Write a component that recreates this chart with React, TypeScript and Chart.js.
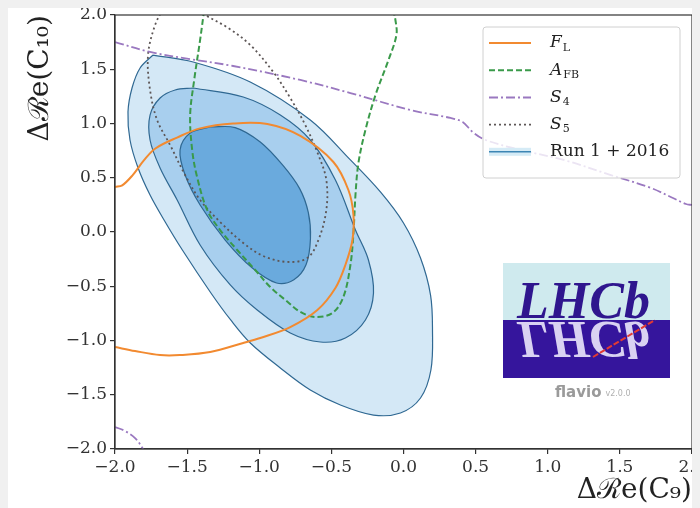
import React, { useEffect, useRef } from 'react';
import { Chart, registerables } from 'chart.js';

Chart.register(...registerables);

// ---------- tick values ----------
const xTickValues = [-2, -1.5, -1, -0.5, 0, 0.5, 1, 1.5, 2];
const yTickValues = [-2, -1.5, -1, -0.5, 0, 0.5, 1, 1.5, 2];

// ---------- constraint curves (ΔRe C9, ΔRe C10) ----------
const FL: [number, number][] = [
  [-2, 0.415], [-1.95, 0.43], [-1.88, 0.52], [-1.8, 0.66], [-1.72, 0.77],
  [-1.57, 0.87], [-1.41, 0.955], [-1.181, 1.0], [-0.944, 0.995], [-0.715, 0.885],
  [-0.486, 0.645], [-0.382, 0.387], [-0.347, 0.157], [-0.354, -0.074], [-0.403, -0.304],
  [-0.472, -0.516], [-0.597, -0.719], [-0.785, -0.876], [-0.993, -0.977], [-1.111, -1.023],
  [-1.34, -1.106], [-1.549, -1.134], [-1.6875, -1.134], [-1.861, -1.097], [-2, -1.06],
];

const AFB: [number, number][] = [
  [-1.382, 2.046], [-1.41, 1.77], [-1.451, 1.401], [-1.479, 1.078], [-1.465, 0.756],
  [-1.431, 0.507], [-1.361, 0.203], [-1.271, 0.018], [-1.153, -0.166], [-1.028, -0.35],
  [-0.924, -0.507], [-0.819, -0.627], [-0.715, -0.737], [-0.611, -0.783], [-0.493, -0.747],
  [-0.417, -0.599], [-0.368, -0.304], [-0.347, -0.009], [-0.333, 0.341], [-0.3125, 0.636],
  [-0.264, 0.94], [-0.194, 1.263], [-0.104, 1.585], [-0.049, 1.816], [-0.056, 1.954],
  [-0.076, 2.065],
];

const S4_main: [number, number][] = [
  [-2, 1.751], [-1.757, 1.659], [-1.479, 1.594], [-1.181, 1.53], [-0.715, 1.401],
  [-0.368, 1.281], [0.049, 1.124], [0.326, 1.051], [0.41, 1.014], [0.479, 0.922],
  [0.569, 0.848], [0.8125, 0.756], [1.111, 0.664], [1.4375, 0.525], [1.715, 0.406],
  [1.868, 0.313], [1.958, 0.258], [2.0, 0.249],
];

const S4_corner: [number, number][] = [
  [-2, -1.797], [-1.931, -1.834], [-1.861, -1.899], [-1.806, -2.0], [-1.792, -2.055],
];

const S5: [number, number][] = [
  [-1.653, 2.092], [-1.722, 1.908], [-1.771, 1.631], [-1.757, 1.309], [-1.708, 1.032],
  [-1.618, 0.802], [-1.514, 0.525], [-1.41, 0.295], [-1.271, 0.092], [-1.111, -0.101],
  [-0.972, -0.221], [-0.806, -0.276], [-0.667, -0.24], [-0.59, -0.074], [-0.535, 0.203],
  [-0.535, 0.479], [-0.59, 0.71], [-0.681, 0.986], [-0.785, 1.235], [-0.903, 1.475],
  [-1.0625, 1.724], [-1.215, 1.88], [-1.375, 2.0], [-1.479, 2.092],
];

// ---------- combined fit contours (Run 1 + 2016) ----------
const contour1sigma: [number, number][] = [
  [-1.34, 0.968], [-1.167, 0.962], [-0.993, 0.829], [-0.84, 0.62], [-0.72, 0.4],
  [-0.66, 0.18], [-0.645, -0.06], [-0.675, -0.3], [-0.76, -0.44], [-0.88, -0.47],
  [-1.05, -0.33], [-1.236, -0.074], [-1.41, 0.249], [-1.514, 0.525], [-1.549, 0.756],
  [-1.479, 0.912], [-1.34, 0.968],
];

const contour2sigma: [number, number][] = [
  [-1.458, 1.327], [-1.111, 1.244], [-0.854, 1.078], [-0.646, 0.848], [-0.472, 0.479],
  [-0.333, 0.018], [-0.243, -0.258], [-0.208, -0.562], [-0.264, -0.811], [-0.403, -0.977],
  [-0.576, -1.014], [-0.785, -0.931], [-1.014, -0.719], [-1.201, -0.488], [-1.41, -0.12],
  [-1.569, 0.295], [-1.6875, 0.59], [-1.757, 0.848], [-1.757, 1.078], [-1.6875, 1.235],
  [-1.583, 1.309], [-1.458, 1.327],
];

const contour3sigma: [number, number][] = [
  [-1.736, 1.631], [-1.458, 1.567], [-1.0625, 1.382], [-0.646, 1.032], [-0.368, 0.664],
  [-0.16, 0.369], [0.0, 0.083], [0.118, -0.24], [0.1875, -0.581], [0.201, -0.903],
  [0.19, -1.272], [0.118, -1.53], [-0.021, -1.668], [-0.208, -1.687], [-0.4375, -1.594],
  [-0.646, -1.456], [-0.854, -1.253], [-1.062, -1.023], [-1.198, -0.811], [-1.335, -0.562],
  [-1.533, -0.166], [-1.66, 0.111], [-1.757, 0.341], [-1.84, 0.59], [-1.896, 0.848],
  [-1.91, 1.106], [-1.882, 1.327], [-1.826, 1.512], [-1.736, 1.631],
];

const SERIF = '"DejaVu Serif", "Liberation Serif", serif';

const legendEntries = [
  { parts: [{ t: 'F', it: true }, { t: 'L', sub: true }], color: '#f28a30', dash: [] as number[], width: 2 },
  { parts: [{ t: 'A', it: true }, { t: 'FB', sub: true }], color: '#3a9a4a', dash: [6, 3], width: 2 },
  { parts: [{ t: 'S', it: true }, { t: '4', sub: true }], color: '#9a78c0', dash: [9, 3, 2, 3], width: 2 },
  { parts: [{ t: 'S', it: true }, { t: '5', sub: true }], color: '#5d5656', dash: [2, 3], width: 1.8 },
  { parts: [{ t: 'Run 1 + 2016' }], color: '#3d86b4', dash: [] as number[], width: 1.6, patch: true },
];

const fmt = (v: number) => v.toFixed(1).replace('-', '\u2212');
const pts = (arr: [number, number][]) => arr.map(([x, y]) => ({ x, y }));

const decorPlugin = {
  id: 'decor',
  afterDraw(chart: any) {
    const ctx: CanvasRenderingContext2D = chart.ctx;
    const ca = chart.chartArea;
    ctx.save();
    // spines top / right
    ctx.strokeStyle = '#333';
    ctx.lineWidth = 1.2;
    ctx.strokeRect(ca.left, ca.top, ca.right - ca.left, ca.bottom - ca.top);

    // ---- LHCb / flavio logo ----
    const lx = ca.right - 189, ly = ca.top + 248, lw = 167, lh = 115, split = 57;
    ctx.fillStyle = '#cfeaee';
    ctx.fillRect(lx, ly, lw, split);
    ctx.fillStyle = '#35159c';
    ctx.fillRect(lx, ly + split, lw, lh - split);
    ctx.save();
    ctx.beginPath();
    ctx.rect(lx, ly, lw, lh);
    ctx.clip();
    ctx.font = 'italic bold 52px "Liberation Serif", serif';
    ctx.textBaseline = 'alphabetic';
    ctx.textAlign = 'left';
    ctx.fillStyle = '#d9d2f2';
    ctx.save();
    ctx.translate(0, 2 * (ly + split));
    ctx.scale(1, -1);
    ctx.fillText('LHCb', lx + 14, ly + split - 2);
    ctx.restore();
    ctx.fillStyle = '#2f168e';
    ctx.fillText('LHCb', lx + 14, ly + split - 2);
    ctx.strokeStyle = '#e23a33';
    ctx.lineWidth = 2;
    ctx.setLineDash([6, 2]);
    ctx.beginPath();
    ctx.moveTo(lx + 90, ly + 94);
    ctx.lineTo(lx + 152, ly + 57);
    ctx.stroke();
    ctx.setLineDash([]);
    ctx.restore();
    ctx.fillStyle = '#9a9a9a';
    ctx.textBaseline = 'middle';
    ctx.font = 'bold 15px "DejaVu Sans", sans-serif';
    ctx.textAlign = 'left';
    ctx.fillText('flavio', lx + 52, ly + lh + 15);
    const fw = ctx.measureText('flavio').width;
    ctx.font = '8px "DejaVu Sans", sans-serif';
    ctx.fillStyle = '#b0b0b0';
    ctx.fillText('v2.0.0', lx + 56 + fw, ly + lh + 16);

    // ---- legend ----
    const bx = ca.right - 209, by = ca.top + 12, bw = 197, bh = 151;
    ctx.fillStyle = 'rgba(255,255,255,0.8)';
    ctx.strokeStyle = '#d0d0d0';
    ctx.lineWidth = 1;
    ctx.beginPath();
    (ctx as any).roundRect(bx, by, bw, bh, 3);
    ctx.fill();
    ctx.stroke();
    legendEntries.forEach((e, i) => {
      const ry = by + 16 + i * 27.2;
      if ((e as any).patch) {
        ctx.fillStyle = '#d5ebf6';
        ctx.fillRect(bx + 6, ry - 4, 42, 8);
      }
      ctx.strokeStyle = e.color;
      ctx.lineWidth = e.width;
      ctx.setLineDash(e.dash);
      ctx.beginPath();
      ctx.moveTo(bx + 6, ry);
      ctx.lineTo(bx + 48, ry);
      ctx.stroke();
      ctx.setLineDash([]);
      let cx = bx + 67;
      ctx.fillStyle = '#222';
      ctx.textAlign = 'left';
      ctx.textBaseline = 'middle';
      for (const p of e.parts as any[]) {
        ctx.font = p.sub ? `11px ${SERIF}` : p.it ? `italic 17px ${SERIF}` : `17px ${SERIF}`;
        ctx.fillText(p.t, cx, p.sub ? ry + 5 : ry);
        cx += ctx.measureText(p.t).width + (p.it ? 1 : 0);
      }
    });
    ctx.restore();
  },
};

export default function App() {
  const canvasRef = useRef<HTMLCanvasElement | null>(null);

  useEffect(() => {
    document.documentElement.style.overflow = 'hidden';
    document.body.style.overflow = 'hidden';
    document.body.style.background = '#f0f0f0';
    const canvas = canvasRef.current;
    if (!canvas) return;

    const lineDs = (label: string, data: [number, number][], color: string, dash: number[], width: number) => ({
      label,
      data: pts(data),
      borderColor: color,
      borderDash: dash,
      borderWidth: width,
      pointRadius: 0,
      tension: 0.35,
      fill: false,
    });
    const contourDs = (label: string, data: [number, number][], bg: string) => ({
      label,
      data: pts(data),
      borderColor: '#2f6892',
      backgroundColor: bg,
      borderWidth: 1.2,
      pointRadius: 0,
      tension: 0.35,
      fill: 'shape',
    });

    const grid = {
      display: true,
      drawOnChartArea: false,
      drawTicks: true,
      tickLength: 5,
      color: '#333',
      lineWidth: 1.2,
    };

    const chart = new Chart(canvas, {
      type: 'line',
      data: {
        datasets: [
          lineDs('F_L', FL, '#f28a30', [], 2),
          lineDs('A_FB', AFB, '#3a9a4a', [6, 3], 2),
          lineDs('S_4', S4_main, '#9a78c0', [9, 3, 2, 3], 1.8),
          lineDs('S_4 (corner)', S4_corner, '#9a78c0', [9, 3, 2, 3], 1.8),
          lineDs('S_5', S5, '#5d5656', [2, 3], 1.8),
          contourDs('Run 1 + 2016 (1σ)', contour1sigma, '#6aaadd'),
          contourDs('Run 1 + 2016 (2σ)', contour2sigma, '#a8cfee'),
          contourDs('Run 1 + 2016 (3σ)', contour3sigma, '#d4e8f6'),
        ] as any,
      },
      options: {
        animation: false,
        responsive: true,
        maintainAspectRatio: false,
        layout: { padding: { top: 7, right: 8, left: 0, bottom: 0 } },
        plugins: {
          legend: { display: false },
          tooltip: { enabled: false },
        },
        scales: {
          x: {
            type: 'linear',
            min: -2,
            max: 2,
            afterBuildTicks: (s: any) => {
              s.ticks = xTickValues.map((value) => ({ value }));
            },
            afterFit: (s: any) => {
              s.height = 59;
              s.paddingLeft = 0;
              s.paddingRight = 0;
            },
            ticks: {
              callback: (v: any) => fmt(Number(v)),
              font: { family: SERIF, size: 17 },
              color: '#333',
              padding: 3,
              maxRotation: 0,
              autoSkip: false,
            },
            title: {
              display: true,
              text: 'Δℛe(C₉)',
              align: 'end',
              font: { family: SERIF, size: 28 },
              color: '#222',
              padding: { top: 0, bottom: 0 },
            },
            grid,
            border: { display: true, color: '#333', width: 1.2 },
          },
          y: {
            type: 'linear',
            min: -2,
            max: 2,
            afterBuildTicks: (s: any) => {
              s.ticks = yTickValues.map((value) => ({ value }));
            },
            afterFit: (s: any) => {
              s.width = 107;
              s.paddingTop = 0;
              s.paddingBottom = 0;
            },
            ticks: {
              callback: (v: any) => fmt(Number(v)),
              font: { family: SERIF, size: 17 },
              color: '#333',
              padding: 3,
              autoSkip: false,
            },
            title: {
              display: true,
              text: 'Δℛe(C₁₀)',
              align: 'end',
              font: { family: SERIF, size: 28 },
              color: '#222',
              padding: { top: 16, bottom: 0 },
            },
            grid,
            border: { display: true, color: '#333', width: 1.2 },
          },
        },
      } as any,
      plugins: [decorPlugin],
    });

    return () => chart.destroy();
  }, []);

  return (
    <div style={{ width: 692, height: 500, position: 'relative', background: '#ffffff' }}>
      <canvas ref={canvasRef} />
    </div>
  );
}
